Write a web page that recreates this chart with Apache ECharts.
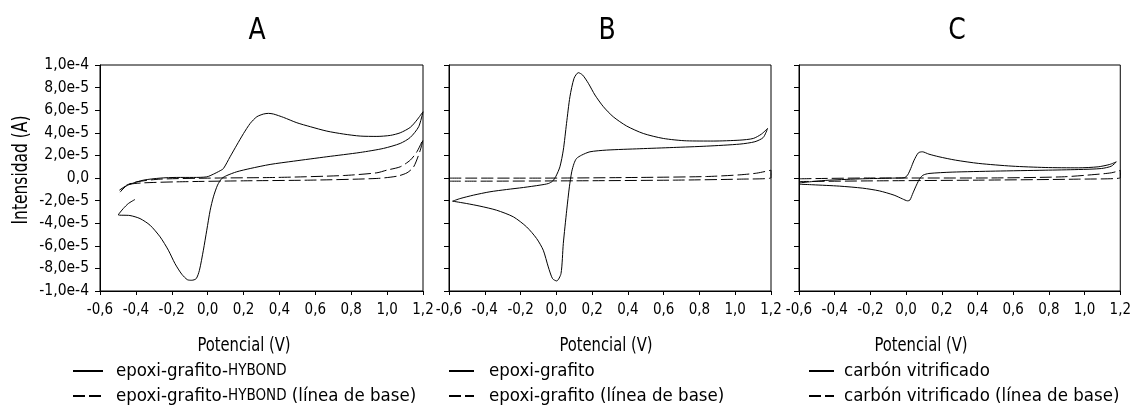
<!DOCTYPE html>
<html><head><meta charset="utf-8">
<script src="https://cdn.jsdelivr.net/npm/echarts@6/dist/echarts.min.js"></script>
<style>html,body{margin:0;padding:0;background:#fff}#c{width:1134px;height:419px}</style>
</head><body><div id="c"></div>
<script>
// ---- data (potential in V, current in microamperes) ----
const panelTitles = ['A', 'B', 'C'];
const xAxisName = 'Potencial (V)';
const yAxisName = 'Intensidad (A)';
const seriesNames = [
  ['epoxi-grafito-HYBOND', 'epoxi-grafito-HYBOND (línea de base)'],
  ['epoxi-grafito', 'epoxi-grafito (línea de base)'],
  ['carbón vitrificado', 'carbón vitrificado (línea de base)']
];

// Panel A - solid
const potA = [-0.488,-0.460,-0.433,-0.358,-0.265,-0.172,-0.079,-0.005,0.032,0.069,0.088,0.125,0.162,0.200,0.237,0.274,0.311,0.339,0.367,0.423,0.497,0.572,0.664,0.757,0.850,0.943,1.018,1.073,1.129,1.166,1.200,
  1.176,1.129,1.073,0.980,0.850,0.664,0.479,0.348,0.237,0.162,0.107,0.079,0.055,0.032,0.014,-0.005,-0.024,-0.046,-0.064,-0.089,-0.113,-0.144,-0.182,-0.219,-0.265,-0.321,-0.377,-0.433,-0.498,-0.470,-0.442,-0.405];
const curA = [-12.5,-7.8,-5.5,-1.9,-0.1,0.5,0.5,1.0,3.4,6.4,8.4,18.8,29.1,39.4,48.3,54.2,56.6,57.2,56.6,53.6,48.9,45.4,41.5,38.9,37.1,36.8,37.7,40.0,44.8,51.3,58.6,
  45.4,35.9,30.6,26.2,22.6,18.8,14.9,12.0,8.4,5.5,2.2,-0.4,-6.3,-16.7,-28.5,-46.2,-63.9,-81.7,-89.1,-90.5,-90.0,-85.2,-75.8,-63.9,-52.1,-41.8,-35.9,-33.2,-32.6,-27.0,-22.6,-19.0];
// Panel A - baseline
const potAb = [-0.479,-0.451,-0.395,-0.265,0.014,0.386,0.757,0.943,0.999,1.073,1.129,1.166,1.200,
  1.185,1.148,1.111,1.055,0.943,0.571,0.200,-0.172,-0.358,-0.433,-0.470,-0.492];
const curAb = [-10.8,-6.3,-3.4,-1.0,-0.1,0.5,2.2,4.6,7.0,9.9,15.8,23.2,34.1,
  24.7,9.9,4.6,1.6,-0.4,-1.9,-2.5,-3.4,-4.3,-5.5,-8.4,-10.8];

// Panel B - solid
const potB = [-0.580,-0.538,-0.464,-0.371,-0.278,-0.184,-0.091,-0.045,-0.021,-0.002,0.020,0.039,0.057,0.076,0.099,0.123,0.147,0.179,0.216,0.263,0.318,0.393,0.486,0.598,0.728,0.877,1.026,1.101,1.147,1.181,
  1.157,1.110,1.026,0.840,0.654,0.467,0.281,0.188,0.141,0.113,0.099,0.086,0.073,0.058,0.039,0.026,0.002,-0.021,-0.045,-0.073,-0.110,-0.166,-0.240,-0.334,-0.427,-0.501,-0.580];
const curB = [-20.5,-18.2,-15.2,-12.2,-10.2,-8.4,-6.3,-4.9,-2.8,1.6,9.9,24.7,48.3,71.9,88.2,93.2,91.1,83.8,73.4,63.1,54.2,46.0,39.4,35.0,32.9,32.7,33.5,35.0,38.9,43.9,
  35.9,32.1,30.0,28.2,27.0,25.9,24.7,23.2,20.2,17.3,12.9,5.5,-7.8,-28.5,-58.0,-84.6,-91.1,-89.1,-78.7,-63.9,-53.6,-43.3,-34.4,-28.5,-24.9,-22.6,-20.5];
// Panel B - baseline
const potBb = [-0.598,-0.091,0.467,0.840,1.026,1.120,1.200, 1.200,1.026,0.654,0.095,-0.464,-0.598];
const curBb = [-0.1,-0.1,0.5,1.3,2.8,4.3,6.9, 0.2,-1.0,-1.9,-2.5,-2.8,-2.8];

// Panel C - solid
const potC = [-0.596,-0.522,-0.429,-0.243,-0.076,-0.011,0.008,0.026,0.045,0.069,0.091,0.128,0.184,0.277,0.407,0.593,0.779,0.965,1.076,1.141,1.178,
  1.150,1.095,0.965,0.779,0.500,0.258,0.128,0.095,0.077,0.058,0.039,0.021,0.008,-0.020,-0.067,-0.150,-0.243,-0.373,-0.522,-0.596];
const curC = [-4.3,-3.1,-1.9,-0.7,-0.1,0.2,2.5,8.4,15.8,22.3,23.2,21.1,18.8,15.8,12.9,10.5,9.3,9.0,9.9,12.0,14.3,
  10.5,8.4,7.5,6.9,6.1,5.2,4.0,2.5,-0.4,-6.3,-13.1,-19.6,-20.2,-18.5,-15.2,-11.4,-9.0,-7.2,-6.0,-5.5];
// Panel C - baseline
const potCb = [-0.596,-0.200,0.407,0.872,1.058,1.150,1.200, 1.200,0.965,0.407,-0.150,-0.596];
const curCb = [-0.7,0.0,0.0,1.0,3.1,4.6,6.7, 0.2,-1.0,-1.9,-2.5,-3.1];

// axis ranges / ticks
const xMin = -0.6, xMax = 1.2, xStep = 0.2;
const yMin = -100, yMax = 100, yStep = 20; // microamperes

// ---- layout ----
const FONT = "'DejaVu Sans Condensed','Liberation Sans',sans-serif";
const grids = [
  {left: 100, top: 65, width: 323, height: 226},
  {left: 449, top: 65, width: 322, height: 226},
  {left: 799, top: 65, width: 323, height: 226}
];
const titlePos = [[257, 31], [607, 31], [957, 31]];
const xNamePos = [[244, 346], [606, 346], [921, 346]];
// [left, iconWidth, textPad]
const legendPos = [[72, 30, 8], [448, 25, 10], [808, 25, 5]];

function zip(a, b) { return a.map((v, i) => [v, b[i]]); }
const solidData = [zip(potA, curA), zip(potB, curB), zip(potC, curC)];
const baseData = [zip(potAb, curAb), zip(potBb, curBb), zip(potCb, curCb)];

function yLabel(v) {
  if (Math.abs(v) < 1e-9) return '0,0';
  const a = Math.abs(v) * 1e-6;
  const e = Math.floor(Math.log10(a) + 1e-9);
  const m = (v * 1e-6) / Math.pow(10, e);
  return m.toFixed(1).replace('.', ',') + 'e' + e;
}
function xLabel(v) { return (Math.round(v * 10) / 10).toFixed(1).replace('.', ','); }

const option = {
  animation: false,
  backgroundColor: '#fff',
  grid: grids.map(g => Object.assign({show: true, borderColor: '#000', borderWidth: 1, backgroundColor: 'transparent'}, g)),
  xAxis: grids.map((g, i) => ({
    type: 'value', gridIndex: i, min: xMin, max: xMax, interval: xStep,
    axisLine: {show: true, onZero: false, lineStyle: {color: '#000', width: 1}},
    axisTick: {show: true, inside: false, length: 4, lineStyle: {color: '#000'}},
    axisLabel: {show: true, formatter: xLabel, color: '#000', fontSize: 15, fontFamily: FONT, margin: 12, showMinLabel: true, showMaxLabel: true},
    splitLine: {show: false}
  })),
  yAxis: grids.map((g, i) => ({
    type: 'value', gridIndex: i, min: yMin, max: yMax, interval: yStep,
    axisLine: {show: true, onZero: false, lineStyle: {color: '#000', width: 1}},
    axisTick: {show: true, inside: false, length: 5, lineStyle: {color: '#000'}},
    axisLabel: {show: i === 0, formatter: yLabel, color: '#000', fontSize: 15.5, fontFamily: FONT, margin: 11},
    splitLine: {show: false}
  })),
  legend: legendPos.map((p, i) => ({
    data: seriesNames[i], left: p[0], top: 361, orient: 'vertical', padding: 0,
    itemWidth: p[1], itemHeight: 20, itemGap: 5,
    itemStyle: {opacity: 0},
    textStyle: {color: '#000', fontSize: 18.5, lineHeight: 20, fontFamily: FONT, padding: [0, 0, 0, p[2]],
      rich: {sc: {fontSize: 15, lineHeight: 20, fontFamily: FONT, color: '#000'}}},
    formatter: function (n) { return n.replace('HYBOND', '{sc|HYBOND}'); }
  })),
  series: [],
  graphic: []
};

for (let i = 0; i < 3; i++) {
  option.series.push({
    name: seriesNames[i][0], type: 'line', xAxisIndex: i, yAxisIndex: i,
    data: solidData[i], showSymbol: false, symbol: 'none', smooth: 0.25,
    lineStyle: {color: '#000', width: 1, type: 'solid'}, itemStyle: {color: '#000'}
  });
  option.series.push({
    name: seriesNames[i][1], type: 'line', xAxisIndex: i, yAxisIndex: i,
    data: baseData[i], showSymbol: false, symbol: 'none', smooth: 0.25,
    lineStyle: {color: '#000', width: 1, type: [12, 4]}, itemStyle: {color: '#000'}
  });
  option.graphic.push({
    type: 'text', x: titlePos[i][0], y: titlePos[i][1], scaleX: 0.9,
    style: {text: panelTitles[i], fontSize: 31, fontFamily: FONT, fill: '#000', align: 'center', verticalAlign: 'middle', textAlign: 'center', textVerticalAlign: 'middle'}
  });
  option.graphic.push({
    type: 'text', x: xNamePos[i][0], y: xNamePos[i][1], scaleX: 0.82,
    style: {text: xAxisName, fontSize: 20, fontFamily: FONT, fill: '#000', align: 'center', verticalAlign: 'middle', textAlign: 'center', textVerticalAlign: 'middle'}
  });
}
option.graphic.push({
  type: 'text', x: 22, y: 170, rotation: Math.PI / 2, scaleX: 0.82,
  style: {text: yAxisName, fontSize: 21, fontFamily: FONT, fill: '#000', align: 'center', verticalAlign: 'middle', textAlign: 'center', textVerticalAlign: 'middle'}
});

const chart = echarts.init(document.getElementById('c'), null, {renderer: 'canvas'});
chart.setOption(option);
</script></body></html>
